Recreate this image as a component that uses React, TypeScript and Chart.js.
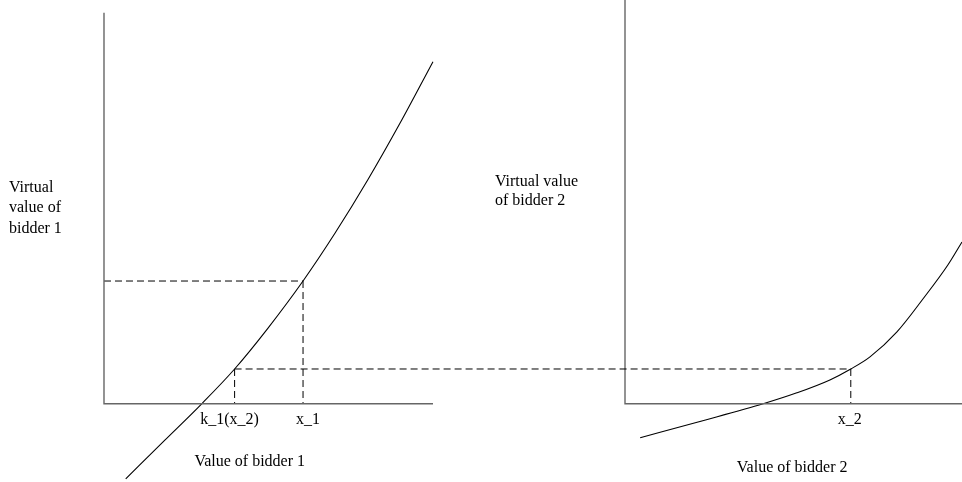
import React, { useEffect, useRef } from "react";
import { Chart, registerables } from "chart.js";

Chart.register(...registerables);

// Bidder 1: value vs virtual value
const value1 = [0.66, 1.85, 2.97, 3.97, 4.98, 6.05, 7.02, 8.02, 9.0, 10.0];
const virtual1 = [-1.92, -0.93, 0, 0.89, 1.93, 3.14, 4.36, 5.73, 7.18, 8.75];

// Bidder 2: value vs virtual value
const value2 = [0.45, 2.14, 4.1, 5.1, 6.08, 6.7, 7.27, 8.07, 8.84, 9.58, 10.0];
const virtual2 = [-0.87, -0.47, 0, 0.28, 0.61, 0.89, 1.2, 1.84, 2.68, 3.55, 4.14];

// Marked values
const k1x2 = 3.97; // k_1(x_2)
const x1Mark = 6.05; // x_1
const x2Mark = 6.7; // x_2
const virtualAtX1 = 3.14;
const virtualAtK = 0.89;

// Axes extents
const axis1 = { xMax: 10, yMax: 10 };
const axis2 = { xMax: 10, yMax: 10.4 };

// Text
const tickLabels1 = ["k_1(x_2)", "x_1"];
const tickLabels2 = ["x_2"];
const xTitle1 = "Value of bidder 1";
const xTitle2 = "Value of bidder 2";
const yTitle1 = ["Virtual", "value of", "bidder 1"];
const yTitle2 = ["Virtual value", "of bidder 2"];

const FONT = '16px "Liberation Serif", "Times New Roman", serif';
const DASH = [7, 4];

const pts = (xs: number[], ys: number[]) => xs.map((x, i) => ({ x, y: ys[i] }));

const labelPlugin = {
  id: "diagramLabels",
  afterDatasetsDraw(chart: any) {
    const { ctx, scales } = chart;
    const sx1 = scales.x1;
    const sx2 = scales.x2;
    const sy = scales.y;
    ctx.save();
    // connecting dashed line across both panels
    ctx.strokeStyle = "#000";
    ctx.lineWidth = 1;
    ctx.setLineDash(DASH);
    const yk = sy.getPixelForValue(virtualAtK);
    ctx.beginPath();
    ctx.moveTo(sx1.getPixelForValue(k1x2), yk);
    ctx.lineTo(sx2.getPixelForValue(x2Mark), yk);
    ctx.stroke();
    ctx.setLineDash([]);

    ctx.font = FONT;
    ctx.fillStyle = "#000";
    ctx.textBaseline = "alphabetic";
    const y0 = sy.getPixelForValue(0);

    ctx.textAlign = "center";
    ctx.fillText(tickLabels1[0], sx1.getPixelForValue(k1x2) - 5, y0 + 20);
    ctx.fillText(tickLabels1[1], sx1.getPixelForValue(x1Mark) + 5, y0 + 20);
    ctx.fillText(tickLabels2[0], sx2.getPixelForValue(x2Mark) - 1, y0 + 20);
    ctx.fillText(xTitle1, sx1.getPixelForValue(4.43), y0 + 62);
    ctx.fillText(xTitle2, sx2.getPixelForValue(4.96), y0 + 68);

    ctx.textAlign = "left";
    const left1 = sx1.getPixelForValue(0) - 95;
    yTitle1.forEach((t, i) => ctx.fillText(t, left1, y0 - 212 + i * 20.5));
    const left2 = sx2.getPixelForValue(0) - 130;
    yTitle2.forEach((t, i) => ctx.fillText(t, left2, y0 - 218 + i * 19.7));
    ctx.restore();
  },
};

export default function App() {
  const ref = useRef<HTMLCanvasElement>(null);

  useEffect(() => {
    document.body.style.margin = "0";
    if (!ref.current) return;
    const axisStyle = {
      borderColor: "#666",
      borderWidth: 1.4,
      pointRadius: 0,
      showLine: true,
      tension: 0,
    };
    const dashStyle = {
      borderColor: "#000",
      borderWidth: 1,
      borderDash: DASH,
      pointRadius: 0,
      showLine: true,
      tension: 0,
    };
    const curveStyle = {
      borderColor: "#000",
      borderWidth: 1.1,
      pointRadius: 0,
      showLine: true,
      cubicInterpolationMode: "monotone" as const,
    };
    const chart = new Chart(ref.current, {
      type: "scatter",
      data: {
        datasets: [
          { ...axisStyle, xAxisID: "x1", data: [{ x: 0, y: axis1.yMax }, { x: 0, y: 0 }, { x: axis1.xMax, y: 0 }] },
          { ...axisStyle, xAxisID: "x2", data: [{ x: 0, y: axis2.yMax }, { x: 0, y: 0 }, { x: axis2.xMax, y: 0 }] },
          { ...dashStyle, xAxisID: "x1", data: [{ x: 0, y: virtualAtX1 }, { x: x1Mark, y: virtualAtX1 }] },
          { ...dashStyle, xAxisID: "x1", data: [{ x: x1Mark, y: virtualAtX1 }, { x: x1Mark, y: 0 }] },
          { ...dashStyle, xAxisID: "x1", data: [{ x: k1x2, y: virtualAtK }, { x: k1x2, y: 0 }] },
          { ...dashStyle, xAxisID: "x2", data: [{ x: x2Mark, y: virtualAtK }, { x: x2Mark, y: 0 }] },
          { ...curveStyle, xAxisID: "x1", data: pts(value1, virtual1) },
          { ...curveStyle, xAxisID: "x2", data: pts(value2, virtual2) },
        ],
      },
      options: {
        animation: false,
        responsive: false,
        layout: { padding: 0 },
        plugins: { legend: { display: false }, tooltip: { enabled: false } },
        scales: {
          x1: { type: "linear", display: false, min: -3.161, max: 26.08 },
          x2: { type: "linear", display: false, min: -18.546, max: 10 },
          y: { type: "linear", display: false, min: -2, max: 10.327 },
        },
      },
      plugins: [labelPlugin],
    });
    return () => chart.destroy();
  }, []);

  return (
    <div style={{ position: "fixed", left: 0, top: 0, width: 962, height: 482, background: "#fff" }}>
      <canvas ref={ref} width={962} height={482} />
    </div>
  );
}
